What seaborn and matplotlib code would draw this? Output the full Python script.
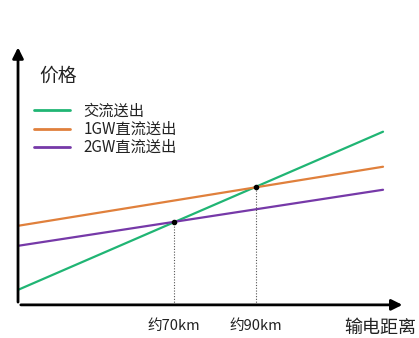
import matplotlib
matplotlib.use("Agg")
import matplotlib.pyplot as plt
import seaborn as sns
import pandas as pd

sns.set_style("white")
plt.rcParams['font.family'] = ['Noto Sans CJK SC', 'DejaVu Sans']

series = ["交流送出", "1GW直流送出", "2GW直流送出"]
x_km = [32, 121]
ac_price = [15, 173]
dc1_price = [79, 138]
dc2_price = [59, 115]
cross_x = [70, 90]
cross_y = [83, 118]
tick_labels = ["约70km", "约90km"]
colors = ["#20b574", "#e0803c", "#7639a8"]

df = pd.DataFrame({
    "x": x_km * 3,
    "y": ac_price + dc1_price + dc2_price,
    "s": [series[0]] * 2 + [series[1]] * 2 + [series[2]] * 2,
})

fig = plt.figure(figsize=(4.19, 3.38), dpi=100)
ax = fig.add_axes([0.043, 0.098, 0.924, 0.77])
sns.lineplot(data=df, x="x", y="y", hue="s", palette=colors, linewidth=1.6, ax=ax)
ax.set_xlim(32, 126.4)
ax.set_ylim(0, 260)

for cx, cy in zip(cross_x, cross_y):
    ax.plot([cx, cx], [0, cy], color="#555555", linestyle=(0, (1, 1.5)), linewidth=0.8)
    ax.scatter([cx], [cy], color="black", s=9, zorder=5)

ax.set_xticks(cross_x)
ax.set_xticklabels(tick_labels, fontsize=10.5, color="#222222")
ax.tick_params(axis="x", length=0, pad=10)
ax.set_yticks([])
ax.set_xlabel("")
ax.set_ylabel("")
for sp in ax.spines.values():
    sp.set_visible(False)

ax.annotate("", xy=(1.0, 0), xytext=(0, 0), xycoords="axes fraction",
            arrowprops=dict(arrowstyle="-|>", color="black", lw=2, mutation_scale=16))
ax.annotate("", xy=(0, 1.0), xytext=(0, 0), xycoords="axes fraction",
            arrowprops=dict(arrowstyle="-|>", color="black", lw=2, mutation_scale=16))

fig.text(39 / 419, 1 - 76 / 338, "价格", fontsize=13.5, va="center", ha="left", color="#222222")
fig.text(416 / 419, 1 - 328 / 338, "输电距离", fontsize=13, va="center", ha="right", color="#222222")

leg = ax.legend(loc="upper left", bbox_to_anchor=(0.025, 0.80), frameon=False,
                fontsize=11, handlelength=2.4, labelspacing=0.08, handletextpad=0.85,
                borderaxespad=0)
for line in leg.get_lines():
    line.set_linewidth(2)
for t in leg.get_texts():
    t.set_color("#222222")

fig.savefig("out.png", dpi=100)
